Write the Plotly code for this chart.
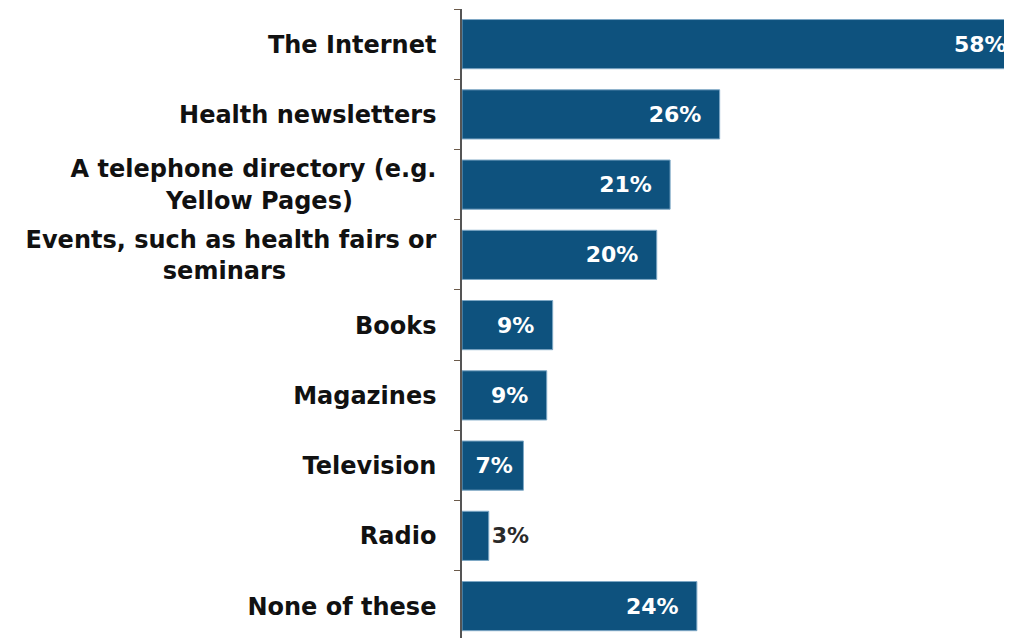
import plotly.graph_objects as go

categories = [
    "The Internet",
    "Health newsletters",
    "A telephone directory (e.g.<br>Yellow Pages)" + "\u00a0" * 10,
    "Events, such as health fairs or<br>seminars" + "\u00a0" * 18,
    "Books",
    "Magazines",
    "Television",
    "Radio",
    "None of these",
]
values = [58, 26.0, 21.0, 19.65, 9.15, 8.55, 6.2, 2.7, 23.7]
labels = ["58%", "26%", "21%", "20%", "9%", "9%", "7%", "3%", "24%"]

BAR = "#0E527E"
FONT = "DejaVu Sans"
X_MAX = 55.5

# bars that run past the visible range get their label pinned to the plot edge
texts, positions = [], []
for v, l in zip(values, labels):
    if v > X_MAX:
        texts.append("")
        positions.append("none")
    elif l == "3%":
        texts.append(l)
        positions.append("outside")
    else:
        texts.append(l + "\u00a0" * (1 if v < 7 else 2))
        positions.append("inside")

fig = go.Figure(
    go.Bar(
        x=values,
        y=categories,
        orientation="h",
        width=0.7,
        marker=dict(color=BAR, line=dict(color="#7ea8c6", width=1)),
        text=texts,
        textposition=positions,
        insidetextanchor="end",
        textangle=0,
        insidetextfont=dict(family=FONT, size=22, color="white", weight="bold"),
        outsidetextfont=dict(family=FONT, size=22, color="#2a2a2a", weight="bold"),
        cliponaxis=True,
        constraintext="none",
    )
)

for v, l, c in zip(values, labels, categories):
    if v > X_MAX:
        fig.add_annotation(
            x=1, xref="paper", xanchor="right", xshift=-3, y=c, yref="y",
            text=l, showarrow=False,
            font=dict(family=FONT, size=22, color="white", weight="bold"),
        )

# the page body adds an 8px offset, so the figure is sized to fit the window
fig.update_layout(
    width=1004,
    height=630,
    margin=dict(l=454, r=0, t=1, b=0, autoexpand=False),
    plot_bgcolor="white",
    paper_bgcolor="white",
    showlegend=False,
)
fig.update_xaxes(range=[0, X_MAX], visible=False, fixedrange=True, automargin=False)
fig.update_yaxes(
    type="category",
    range=[8.454, -0.5],
    automargin=False,
    showline=True,
    linecolor="#555555",
    linewidth=1.5,
    ticks="outside",
    ticklen=6,
    tickcolor="#6b5a4a",
    tickson="boundaries",
    ticklabelstandoff=19,
    tickfont=dict(family=FONT, size=24, color="#111111", weight="bold"),
    showgrid=False,
    zeroline=False,
)

fig.write_html("out.html")
